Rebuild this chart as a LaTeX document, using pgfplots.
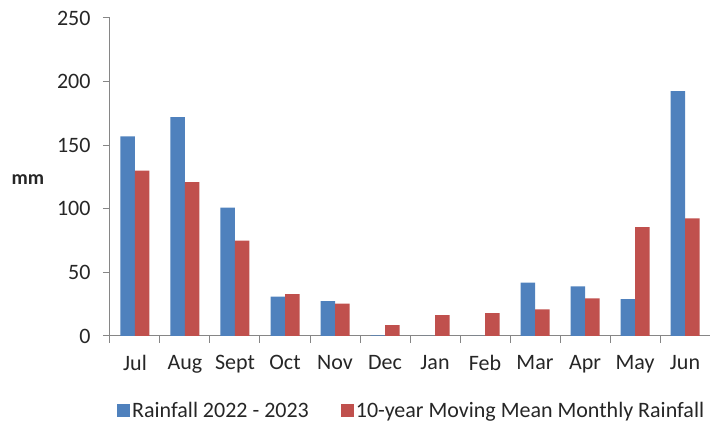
\documentclass[border=0pt]{standalone}
\usepackage{fontspec}
\setmainfont{Carlito}
\usepackage{pgfplots}
\pgfplotsset{compat=1.18}
\definecolor{barblue}{HTML}{4F81BD}
\definecolor{barred}{HTML}{C0504D}
\definecolor{axgray}{HTML}{868686}
\definecolor{txt}{HTML}{262626}
\begin{document}
\begin{tikzpicture}[x=1pt,y=1pt]
\path[use as bounding box] (-110,-89) rectangle (600,336);
\begin{axis}[
    at={(0,0)}, anchor=south west,
    scale only axis,
    width=600pt, height=318pt,
    clip=false,
    ybar=0pt, bar width=14.5pt,
    xmin=-0.5, xmax=11.5,
    ymin=0, ymax=250,
    xtick={0,...,11},
    xticklabels={Jul,Aug,Sept,Oct,Nov,Dec,Jan,Feb,Mar,Apr,May,Jun},
    minor xtick={-0.5,0.5,...,11.5},
    ytick={0,50,...,250},
    axis x line*=bottom, axis y line*=left,
    axis line style={-, axgray, line width=1pt},
    tick align=outside,
    major tick length=7pt, minor tick length=7pt,
    major x tick style={draw=none},
    minor x tick style={axgray, line width=1pt},
    major y tick style={axgray, line width=1pt},
    /pgf/number format/assume math mode=true,
    tick label style={font=\fontsize{22}{26}\selectfont, text=txt},
    yticklabel style={xshift=-9pt},
    xticklabel style={yshift=-9pt},
    legend style={draw=none, at={(0,0)}, anchor=west, xshift=4pt, yshift=-75pt,
        font=\fontsize{22}{26}\selectfont, text=txt,
        legend columns=2,
        /tikz/every even column/.append style={column sep=30pt}},
    legend image code/.code={\fill[#1] (0pt,-6.5pt) rectangle (13pt,6.5pt);},
    ]
\addplot[fill=barblue, draw=none] coordinates {
    (0,157) (1,172) (2,101) (3,31) (4,27.5) (5,0.5)
    (6,0) (7,0) (8,42) (9,39) (10,29) (11,192.5)};
\addplot[fill=barred, draw=none] coordinates {
    (0,130) (1,121) (2,75) (3,33) (4,25.5) (5,8.5)
    (6,16.5) (7,18) (8,21) (9,29.5) (10,85.5) (11,92.5)};
\legend{Rainfall 2022 - 2023, 10-year Moving Mean Monthly Rainfall}
\node[font=\bfseries\fontsize{20}{24}\selectfont, text=txt] at (rel axis cs:0,0.493) [xshift=-82pt] {mm};
\end{axis}
\end{tikzpicture}
\end{document}
